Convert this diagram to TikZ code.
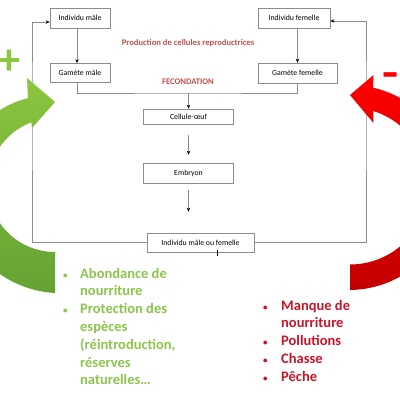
\documentclass[tikz,border=0pt]{standalone}
\usepackage{fontspec}
\setmainfont{Carlito}
\usetikzlibrary{arrows.meta}
\definecolor{LineGray}{RGB}{140,140,140}
\definecolor{TitleRed}{RGB}{192,80,77}
\definecolor{ListGreen}{RGB}{140,196,76}
\definecolor{ListRed}{RGB}{200,20,40}
\definecolor{GreenTop}{RGB}{139,198,63}
\definecolor{GreenBottom}{RGB}{100,162,52}
\definecolor{RedTop}{RGB}{255,0,0}
\definecolor{RedBottom}{RGB}{195,0,0}
\newcommand{\dotmark}{{\fontsize{9}{9}\selectfont\textbullet}}

\begin{document}
\begin{tikzpicture}[x=1pt, y=-1pt,
    box/.style={draw=LineGray, line width=0.7pt, fill=white, inner sep=0pt,
      minimum height=20pt, font=\fontsize{7.8}{9}\selectfont},
    flow/.style={draw=LineGray, line width=0.7pt},
    tip/.style={-{Stealth[length=4pt, width=3.5pt, color=black]}},
    title/.style={TitleRed, font=\fontsize{8.6}{10}\selectfont\bfseries},
    sign/.style={font=\fontsize{44}{44}\selectfont\bfseries},
    list/.style={anchor=base west, inner sep=0pt, font=\fontsize{14.5}{17.8}\selectfont\bfseries}]
    \useasboundingbox (0,0) rectangle (400,400);
    \clip (0,0) rectangle (400,400);

    % Boxes
    \node[box, minimum width=60pt] (imale) at (80,18) {Individu mâle};
    \node[box, minimum width=72pt] (ifem) at (294,18) {Individu femelle};
    \node[box, minimum width=60pt, minimum height=19pt] (gmale) at (80,73) {Gamète mâle};
    \node[box, minimum width=79pt] (gfem) at (297.5,73) {Gamète femelle};
    \node[box, minimum width=90pt, minimum height=15pt] (cell) at (188.5,116.5) {Cellule-œuf};
    \node[box, minimum width=90pt] (emb) at (188.5,173) {Embryon};
    \node[box, minimum width=107pt, minimum height=19pt] (ind) at (200.5,242.5) {Individu mâle ou femelle};

    % Titles
    \node[title] (prod) at (188,43) {Production de cellules reproductrices};
    \node[title] (fecond) at (188,82) {FECONDATION};

    % Flow
    \draw[flow, tip] ([xshift=-3pt]imale.south) -- ([xshift=-3pt]gmale.north);
    \draw[flow, tip] (gfem.north |- ifem.south) -- (gfem.north);
    \coordinate (meet) at (188.5,93);
    \draw[flow] ([xshift=-3pt]gmale.south) |- (meet) -| (gfem.south);
    \draw[flow, tip] (meet) -- (cell.north);
    \draw[flow, tip, shorten <=11pt, shorten >=8pt] (cell) -- (emb);
    \draw[flow, tip, shorten <=7pt, shorten >=21pt] (emb.south) -- (emb.south |- ind.north);

    % Loops back to the parents
    \coordinate (lcol) at (32,100);
    \coordinate (rcol) at (366,100);
    \coordinate (lin) at ([yshift=-4pt]imale.west);
    \coordinate (rin) at ([yshift=-3pt]ifem.east);
    \draw[flow, tip] (ind.west) -| (lcol) |- (lin);
    \draw[flow, tip] (ind.east) -| (rcol) |- (rin);
    \coordinate (cursor) at (217,250);
    \draw[black, line width=0.6pt] (cursor) -- ++(0,6);

    % Circular arrows
    \shade[top color=GreenTop, bottom color=GreenBottom]
      plot[domain=270:107.3, samples=60] ({55+(91+17*(\x-107.3)/162.7)*cos(\x)}, {185-(91+17*(\x-107.3)/162.7)*sin(\x)})
      -- (27,78) -- (55,102) -- (32,128)
      -- plot[domain=110.7:270, samples=60] ({55+67*cos(\x)}, {185-67*sin(\x)}) -- cycle;
    \shade[top color=RedTop, bottom color=RedBottom]
      plot[domain=270:436.8, samples=60] ({350+(104-3*(\x-270)/166.8)*cos(\x)}, {186-(104-3*(\x-270)/166.8)*sin(\x)})
      -- (373.5,75) -- (350,95) -- (373.5,123)
      -- plot[domain=432.8:270, samples=60] ({350+78.5*cos(\x)}, {186-78.5*sin(\x)}) -- cycle;

    % Signs
    \node[sign, GreenTop] (plus) at (9.5,62) {+};
    \node[sign, RedTop, xscale=1.2] (minus) at (391,80) {-};

    % Factors
    \node[list, ListGreen] (good) at (63,278) {\begin{tabular}[t]{@{}p{17pt}@{}l@{}}
      \dotmark & Abondance de\\
               & nourriture\\
      \dotmark & Protection des\\
               & espèces\\
               & (réintroduction,\\
               & réserves\\
               & naturelles…
    \end{tabular}};
    \node[list, ListRed] (bad) at (263,310) {\begin{tabular}[t]{@{}p{18pt}@{}l@{}}
      \dotmark & Manque de\\
               & nourriture\\
      \dotmark & Pollutions\\
      \dotmark & Chasse\\
      \dotmark & Pêche
    \end{tabular}};
\end{tikzpicture}
\end{document}
